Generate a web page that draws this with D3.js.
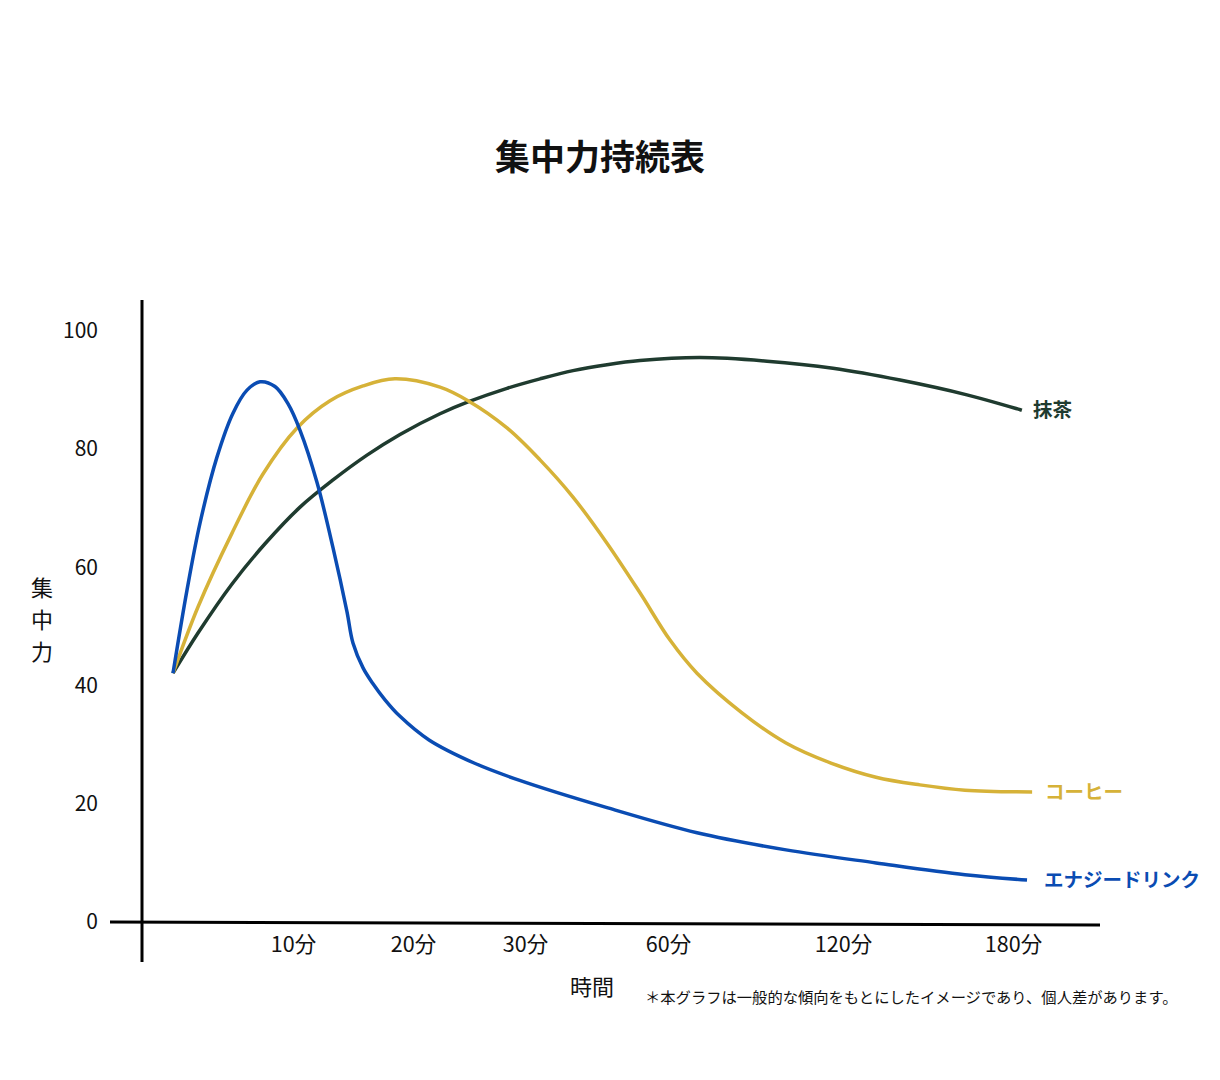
<!DOCTYPE html>
<html lang="ja">
<head>
<meta charset="utf-8">
<script src="https://cdn.jsdelivr.net/npm/d3@7"></script>
<style>
  html, body { margin: 0; padding: 0; background: #fff; }
  svg { display: block; font-family: "Noto Sans CJK JP", "Noto Sans", sans-serif; }
</style>
</head>
<body>
<svg id="chart" width="1220" height="1080"></svg>
<script>
// ---- data ----
const titleText = "集中力持続表";
const yLabelText = "集中力";
const xLabelText = "時間";
const noteText = "＊本グラフは一般的な傾向をもとにしたイメージであり、個人差があります。";

const timeBreaks = [0, 10, 20, 30, 60, 120, 180];     // minutes (non-uniform axis)
const xTickValues = [10, 20, 30, 60, 120, 180];
const xTickLabels = ["10分", "20分", "30分", "60分", "120分", "180分"];
const yTickValues = [0, 20, 40, 60, 80, 100];

const seriesNames = ["抹茶", "コーヒー", "エナジードリンク"];
const seriesColors = ["#1f3b2f", "#d6b238", "#0a4cb3"];

const matchaTime  = [0, 2.1, 4.96, 7.73, 10.67, 13.42, 16.25, 19.0, 22.5, 25.0, 28.48, 33.36, 40.28, 47.41, 54.33, 71.3, 94.3, 116.9, 140.5, 164.1, 183.5];
const matchaValue = [42.1, 48.9, 57.2, 64.0, 70.2, 74.8, 79.0, 82.5, 86.0, 88.0, 90.3, 91.9, 93.3, 94.3, 95.0, 95.5, 94.9, 93.7, 91.7, 89.2, 86.6];

const coffeeTime  = [0, 2.1, 4.96, 7.56, 10.42, 13.17, 15.92, 18.58, 22.5, 25.0, 28.48, 33.36, 40.28, 47.41, 54.33, 61.03, 70.28, 85.71, 100.8, 116.2, 132.0, 147.5, 163.4, 187.1];
const coffeeValue = [42.1, 53.3, 65.8, 75.8, 83.6, 88.2, 90.7, 91.9, 90.5, 88.2, 83.6, 78.2, 71.9, 64.1, 55.7, 47.7, 42.1, 35.4, 30.3, 26.9, 24.5, 23.2, 22.3, 22.0];

const energyTime  = [0, 1.18, 2.27, 3.7, 5.04, 6.22, 7.31, 8.57, 9.66, 10.67, 12.08, 13.42, 14.58, 15.08, 15.92, 16.72, 17.75, 19.0, 21.52, 25.54, 29.55, 47.6, 70.3, 100.8, 132.0, 163.4, 185.3];
const energyValue = [42.1, 56.2, 67.5, 78.7, 86.1, 90.0, 91.4, 90.6, 87.7, 83.2, 74.4, 63.3, 52.5, 47.2, 43.0, 40.4, 37.6, 34.8, 30.8, 26.9, 24.0, 19.3, 15.1, 12.2, 10.0, 8.0, 7.1];

const seriesTimes = [matchaTime, coffeeTime, energyTime];
const seriesValues = [matchaValue, coffeeValue, energyValue];

// ---- layout ----
const svg = d3.select("#chart");
const axisX0 = 142, axisYTop = 300, axisYBottom = 962;
const baseY = 922;
const labelGap = [11, 13, 17];

const x = d3.scaleLinear().domain(timeBreaks).range([173, 292, 412, 524, 667, 842, 1012]);
const y = d3.scaleLinear().domain([0, 100]).range([baseY, 331]);

// title
svg.append("text")
  .attr("x", 600).attr("y", 170)
  .attr("text-anchor", "middle")
  .attr("font-size", 35).attr("font-weight", 700)
  .attr("fill", "#111")
  .text(titleText);

// y axis ticks (labels only)
const yAxis = d3.axisLeft(y).tickValues(yTickValues).tickSize(0).tickPadding(44);
const gy = svg.append("g").attr("transform", `translate(${axisX0},0)`).call(yAxis);
gy.select(".domain").remove();
gy.selectAll("text").attr("font-size", 21).attr("fill", "#111")
  .attr("font-family", '"Noto Sans CJK JP", sans-serif');

// x axis ticks (labels only)
const xAxis = d3.axisBottom(x).tickValues(xTickValues)
  .tickFormat((d, i) => xTickLabels[i]).tickSize(0).tickPadding(15);
const gx = svg.append("g").attr("transform", `translate(1,${baseY})`).call(xAxis);
gx.select(".domain").remove();
gx.selectAll("text").attr("font-size", 21.5).attr("fill", "#111")
  .attr("font-family", '"Noto Sans CJK JP", sans-serif');

// axis lines
svg.append("line")
  .attr("x1", axisX0).attr("x2", axisX0)
  .attr("y1", axisYTop).attr("y2", axisYBottom)
  .attr("stroke", "#000").attr("stroke-width", 3);
svg.append("line")
  .attr("x1", 110).attr("x2", 1100)
  .attr("y1", baseY).attr("y2", baseY + 3)
  .attr("stroke", "#000").attr("stroke-width", 3);

// axis titles
const yl = svg.append("text")
  .attr("text-anchor", "middle")
  .attr("font-size", 22).attr("fill", "#111");
yLabelText.split("").forEach((ch, i) => {
  yl.append("tspan").attr("x", 42).attr("y", 596 + i * 32).text(ch);
});
svg.append("text")
  .attr("x", 592).attr("y", 995)
  .attr("text-anchor", "middle")
  .attr("font-size", 22).attr("fill", "#111")
  .text(xLabelText);
svg.append("text")
  .attr("x", 645).attr("y", 1003)
  .attr("font-size", 15.3).attr("fill", "#111")
  .text(noteText);

// lines
const line = d3.line()
  .x(d => x(d[0])).y(d => y(d[1]))
  .curve(d3.curveCatmullRom.alpha(0.5));

seriesNames.forEach((name, i) => {
  const pts = seriesTimes[i].map((t, k) => [t, seriesValues[i][k]]);
  svg.append("path")
    .datum(pts)
    .attr("d", line)
    .attr("fill", "none")
    .attr("stroke", seriesColors[i])
    .attr("stroke-width", 3.5)
    .attr("stroke-linecap", "butt");
  const last = pts[pts.length - 1];
  svg.append("text")
    .attr("x", x(last[0]) + labelGap[i])
    .attr("y", y(last[1]))
    .attr("dy", "0.36em")
    .attr("font-size", 19.5).attr("font-weight", 700)
    .attr("fill", seriesColors[i])
    .text(name);
});
</script>
</body>
</html>
